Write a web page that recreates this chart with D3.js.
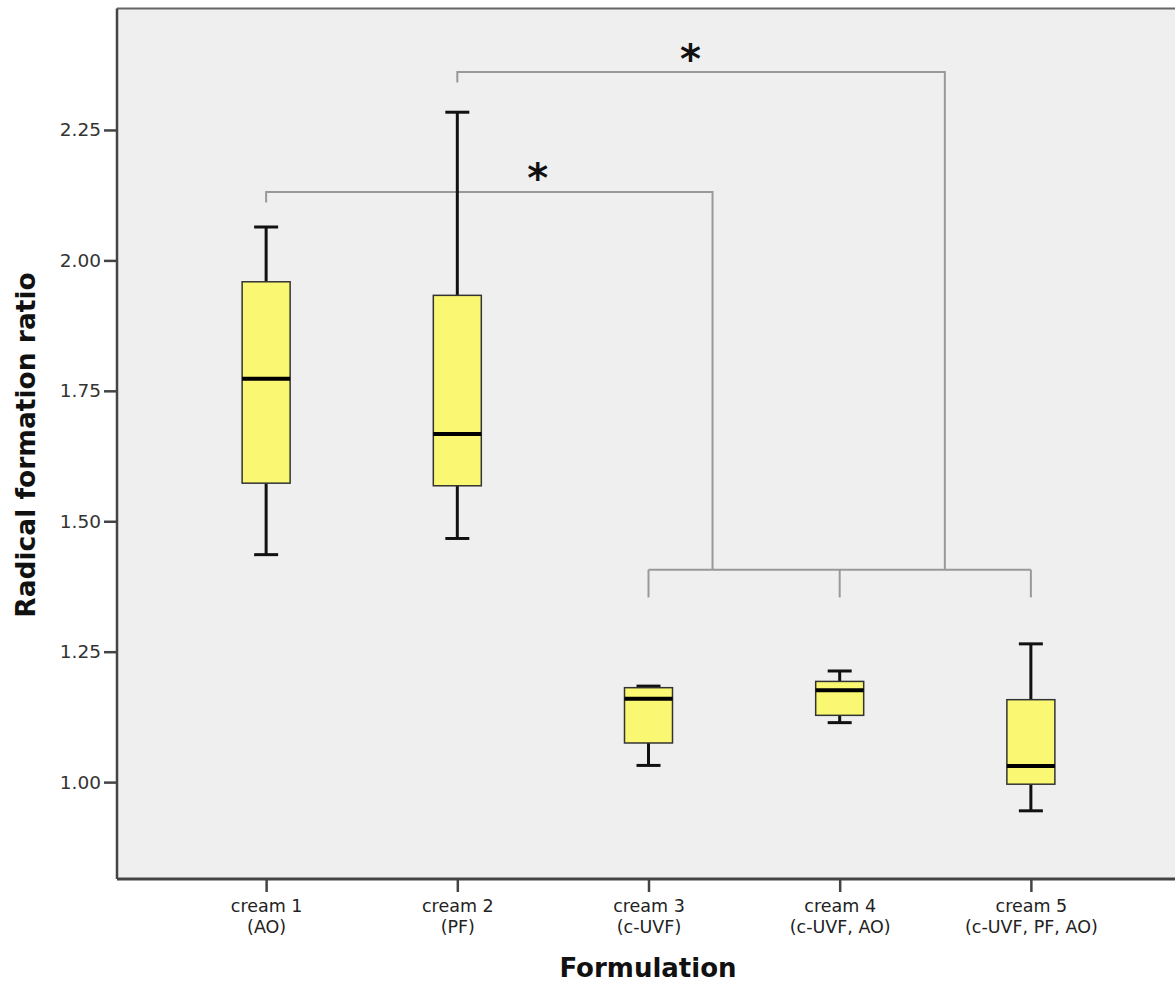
<!DOCTYPE html>
<html>
<head>
<meta charset="utf-8">
<script src="https://cdn.jsdelivr.net/npm/d3@7"></script>
<style>
html,body{margin:0;padding:0;background:#fff;}
svg{display:block;}
</style>
</head>
<body>
<svg id="chart" width="1175" height="983"></svg>
<script>
// ---- data ----
const categories = ["cream 1","cream 2","cream 3","cream 4","cream 5"];
const subLabels = ["(AO)","(PF)","(c-UVF)","(c-UVF, AO)","(c-UVF, PF, AO)"];
const whiskerLow  = [1.436, 1.467, 1.032, 1.114, 0.945];
const q1Values    = [1.573, 1.568, 1.075, 1.128, 0.996];
const medians     = [1.773, 1.667, 1.160, 1.176, 1.031];
const q3Values    = [1.959, 1.933, 1.181, 1.193, 1.158];
const whiskerHigh = [2.064, 2.284, 1.184, 1.213, 1.265];
const yTicks = [1.00, 1.25, 1.50, 1.75, 2.00, 2.25];
// significance brackets (x as category index positions, y in data units)
const upperBrackets = [
  {x1: 0, x2: 2.335, y: 2.131, yTick: 2.111, star: {x: 1.42, y: 2.174}},
  {x1: 1, x2: 3.55,  y: 2.361, yTick: 2.341, star: {x: 2.22, y: 2.402}}
];
const lowerBracket = {x1: 2, x2: 4, y: 1.407, ticks: [2, 3, 4], yTick: 1.354};

// ---- layout ----
const svg = d3.select("#chart");
const pLeft = 117, pTop = 8.5, pBottom = 879, pRight = 1180;

const x = d3.scalePoint().domain(categories).range([pLeft, pRight]).padding(0.78);
const xi = d3.scaleLinear().domain([0, 1]).range([x(categories[0]), x(categories[1])]);
const y = d3.scaleLinear().domain([0.8143, 2.4828]).range([pBottom, pTop]);

// background
svg.append("rect").attr("x", pLeft).attr("y", pTop).attr("width", pRight - pLeft).attr("height", pBottom - pTop)
  .attr("fill", "#efefef");
svg.append("line").attr("x1", pLeft).attr("x2", pRight).attr("y1", pTop).attr("y2", pTop)
  .attr("stroke", "#666").attr("stroke-width", 2);

// brackets
const bg = svg.append("g").attr("stroke", "#999").attr("stroke-width", 2).attr("fill", "none");
upperBrackets.forEach(b => {
  bg.append("path").attr("d",
    `M${xi(b.x1)},${y(b.yTick)}V${y(b.y)}H${xi(b.x2)}V${y(lowerBracket.y)}`);
});
bg.append("path").attr("d", `M${xi(lowerBracket.x1)},${y(lowerBracket.y)}H${xi(lowerBracket.x2)}`);
lowerBracket.ticks.forEach(t => {
  bg.append("path").attr("d", `M${xi(t)},${y(lowerBracket.y)}V${y(lowerBracket.yTick)}`);
});
upperBrackets.forEach(b => {
  svg.append("text").attr("x", xi(b.star.x)).attr("y", y(b.star.y)).attr("dy", "0.55em")
    .attr("text-anchor", "middle").attr("font-family", "DejaVu Sans").attr("font-weight", "bold")
    .attr("font-size", 40).attr("fill", "#111").text("*");
});

// boxes
const boxW = 48, capW = 24;
const g = svg.append("g");
categories.forEach((c, i) => {
  const cx = x(c);
  g.append("line").attr("x1", cx).attr("x2", cx).attr("y1", y(whiskerHigh[i])).attr("y2", y(q3Values[i]))
    .attr("stroke", "#111").attr("stroke-width", 3);
  g.append("line").attr("x1", cx).attr("x2", cx).attr("y1", y(q1Values[i])).attr("y2", y(whiskerLow[i]))
    .attr("stroke", "#111").attr("stroke-width", 3);
  [whiskerHigh[i], whiskerLow[i]].forEach(v => {
    g.append("line").attr("x1", cx - capW / 2).attr("x2", cx + capW / 2).attr("y1", y(v)).attr("y2", y(v))
      .attr("stroke", "#111").attr("stroke-width", 3);
  });
  g.append("rect").attr("x", cx - boxW / 2).attr("y", y(q3Values[i]))
    .attr("width", boxW).attr("height", y(q1Values[i]) - y(q3Values[i]))
    .attr("fill", "#faf872").attr("stroke", "#333").attr("stroke-width", 1.5);
  g.append("line").attr("x1", cx - boxW / 2).attr("x2", cx + boxW / 2).attr("y1", y(medians[i])).attr("y2", y(medians[i]))
    .attr("stroke", "#000").attr("stroke-width", 4);
});

// y axis
const yAxis = svg.append("g").attr("transform", `translate(${pLeft},0)`)
  .call(d3.axisLeft(y).tickValues(yTicks).tickFormat(d3.format(".2f")).tickSize(13).tickPadding(3));
yAxis.select(".domain").attr("stroke", "#444").attr("stroke-width", 2.5).attr("d", `M0,${pTop}V${pBottom}`);
yAxis.selectAll(".tick line").attr("stroke", "#444").attr("stroke-width", 2.5);
yAxis.selectAll(".tick text").attr("font-family", "DejaVu Sans, sans-serif")
  .attr("font-size", 18.5).attr("fill", "#333");

// x axis
const xAxis = svg.append("g").attr("transform", `translate(0,${pBottom})`)
  .call(d3.axisBottom(x).tickSize(13).tickFormat(""));
xAxis.select(".domain").attr("stroke", "#444").attr("stroke-width", 3).attr("d", `M${pLeft},0H${pRight}`);
xAxis.selectAll(".tick line").attr("stroke", "#444").attr("stroke-width", 2.5);
xAxis.selectAll(".tick").each(function(d, i) {
  const t = d3.select(this).append("text").attr("fill", "#222")
    .attr("font-family", "DejaVu Sans, sans-serif").attr("font-size", 17.5)
    .attr("text-anchor", "middle");
  t.append("tspan").attr("x", 0).attr("y", 33).text(categories[i]);
  t.append("tspan").attr("x", 0).attr("y", 54).text(subLabels[i]);
});

// titles
svg.append("text").attr("x", 648).attr("y", 977).attr("text-anchor", "middle")
  .attr("font-family", "DejaVu Sans").attr("font-weight", "bold").attr("font-size", 26)
  .attr("fill", "#111").text("Formulation");
svg.append("text").attr("transform", "translate(35,445) rotate(-90)").attr("text-anchor", "middle")
  .attr("font-family", "DejaVu Sans").attr("font-weight", "bold").attr("font-size", 26.5)
  .attr("fill", "#111").text("Radical formation ratio");
</script>
</body>
</html>
